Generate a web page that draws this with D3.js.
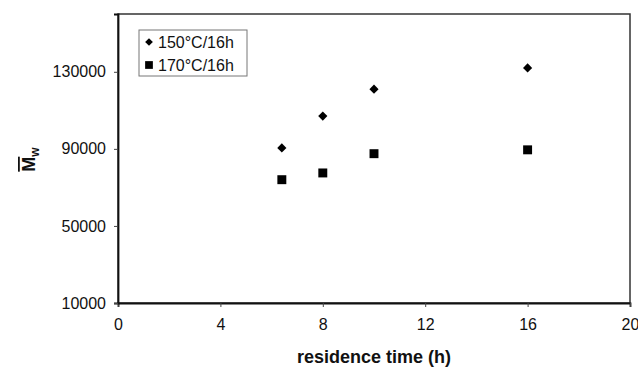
<!DOCTYPE html>
<html>
<head>
<meta charset="utf-8">
<script src="https://cdn.jsdelivr.net/npm/d3@7"></script>
<style>
  body { margin: 0; background: #fff; }
  text { font-family: "Liberation Sans", Arial, sans-serif; fill: #111; }
</style>
</head>
<body>
<div id="chart"></div>
<script>
// data
var times = [6.4, 8, 10, 16];
var mw150 = [90500, 107000, 121000, 132000];
var mw170 = [74000, 77500, 87500, 89500];
var seriesNames = ["150°C/16h", "170°C/16h"];
var xTicks = [0, 4, 8, 12, 16, 20];
var yTicks = [10000, 50000, 90000, 130000];

var W = 638, H = 369;
var margin = {top: 14, right: 8, bottom: 66, left: 118};
var width = W - margin.left - margin.right;
var height = H - margin.top - margin.bottom;

var svg = d3.select("#chart")
    .append("svg")
    .attr("width", W)
    .attr("height", H)
    .append("g")
    .attr("transform", "translate(" + margin.left + "," + margin.top + ")");

var x = d3.scaleLinear().domain([0, 20]).range([0, width]);
var y = d3.scaleLinear().domain([10000, 160000]).range([height, 0]);

// plot frame
svg.append("rect")
    .attr("width", width)
    .attr("height", height)
    .attr("fill", "none")
    .attr("stroke", "#333")
    .attr("stroke-width", 1.5);

// X axis
var xAxis = svg.append("g")
    .attr("transform", "translate(0," + height + ")")
    .call(d3.axisBottom(x).tickValues(xTicks).tickSize(4).tickPadding(12).tickFormat(d3.format("d")));
xAxis.select(".domain").attr("stroke", "#111").attr("stroke-width", 1.8);
xAxis.selectAll(".tick line").attr("stroke", "#444");
xAxis.selectAll("text").style("font-size", "16px").attr("fill", "#111");

// Y axis
var yAxis = svg.append("g")
    .call(d3.axisLeft(y).tickValues(yTicks).tickSize(4).tickPadding(8).tickFormat(d3.format("d")));
yAxis.select(".domain").attr("stroke", "#111").attr("stroke-width", 1.8);
yAxis.selectAll(".tick line").attr("stroke", "#444");
yAxis.selectAll("text").style("font-size", "16px").attr("fill", "#111");

// X label
svg.append("text")
    .attr("x", width / 2)
    .attr("y", height + 60)
    .attr("text-anchor", "middle")
    .style("font-weight", "bold")
    .style("font-size", "18px")
    .text("residence time (h)");

// Y label: M with overline, subscript w
var yl = svg.append("text")
    .attr("transform", "translate(" + (-83) + "," + (height / 2 + 1) + ") rotate(-90)")
    .attr("text-anchor", "middle")
    .style("font-weight", "bold")
    .style("font-size", "18px");
yl.append("tspan").style("text-decoration", "overline").text("M");
yl.append("tspan").attr("dy", 4).style("font-size", "12px").text("w");

// markers: diamond = square turned 45 degrees
var diamond = d3.symbol().type(d3.symbolSquare).size(42);
var square = d3.symbol().type(d3.symbolSquare).size(80);

svg.append("g")
    .selectAll("path")
    .data(times)
    .enter()
    .append("path")
    .attr("d", diamond)
    .attr("transform", function (d, i) {
        return "translate(" + x(d) + "," + y(mw150[i]) + ") rotate(45)";
    })
    .attr("fill", "#000");

svg.append("g")
    .selectAll("path")
    .data(times)
    .enter()
    .append("path")
    .attr("d", square)
    .attr("transform", function (d, i) {
        return "translate(" + x(d) + "," + y(mw170[i]) + ")";
    })
    .attr("fill", "#000");

// legend
var lg = svg.append("g").attr("transform", "translate(21,16)");
lg.append("rect")
    .attr("width", 108)
    .attr("height", 46)
    .attr("fill", "#fff")
    .attr("stroke", "#777")
    .attr("stroke-width", 1);
var symbols = [d3.symbol().type(d3.symbolSquare).size(30), d3.symbol().type(d3.symbolSquare).size(60)];
seriesNames.forEach(function (name, i) {
    var ly = 12 + i * 23;
    lg.append("path")
        .attr("d", symbols[i])
        .attr("transform", "translate(10," + ly + ")" + (i === 0 ? " rotate(45)" : ""))
        .attr("fill", "#000");
    lg.append("text")
        .attr("x", 19)
        .attr("y", ly + 6)
        .style("font-size", "16px")
        .text(name);
});
</script>
</body>
</html>
